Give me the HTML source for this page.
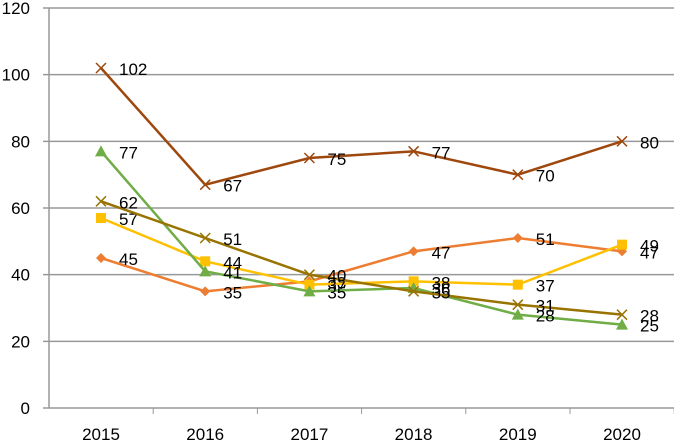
<!DOCTYPE html>
<html><head><meta charset="utf-8"><style>
body{margin:0;background:#fff}
svg{display:block;font-family:"Liberation Sans",sans-serif}
</style></head><body>
<svg id="c" width="674" height="441"></svg>
<script>
const categories=["2015","2016","2017","2018","2019","2020"];
const yTicks=[0,20,40,60,80,100,120];
const sOrange=[45,35,38,47,51,47];
const sYellow=[57,44,37,38,37,49];
const sGreen=[77,41,35,36,28,25];
const sBrown=[102,67,75,77,70,80];
const sOlive=[62,51,40,35,31,28];
const series=[
 {name:"series-orange",v:sOrange,c:"#ED7D31",m:"diamond"},
 {name:"series-yellow",v:sYellow,c:"#FFC000",m:"square"},
 {name:"series-green",v:sGreen,c:"#70AD47",m:"triangle"},
 {name:"series-brown",v:sBrown,c:"#9E480E",m:"x"},
 {name:"series-olive",v:sOlive,c:"#997300",m:"x"}
];
const NS="http://www.w3.org/2000/svg";
const svg=document.getElementById('c');
const X=i=>101+i*104.2;
const Y=v=>408-v*400/120;
function mk(t,a,p){const e=document.createElementNS(NS,t);for(const k in a)e.setAttribute(k,a[k]);(p||svg).appendChild(e);return e;}
yTicks.forEach(t=>{
 const g=mk('line',{x1:43,x2:674,y1:Y(t),y2:Y(t),stroke:'#999','stroke-width':1.5});
 
 
 const l=mk('text',{x:30,y:Y(t)+6,'text-anchor':'end','font-size':17});
 l.textContent=t;
 
 
});
const ax=mk('line',{x1:49,x2:49,y1:8,y2:408,stroke:'#999','stroke-width':1.5});


categories.forEach((c,i)=>{
 const tk=mk('line',{x1:49+104.2*(i+1),x2:49+104.2*(i+1),y1:408,y2:414,stroke:'#999'});
 
 
 const l=mk('text',{x:X(i),y:440,'text-anchor':'middle','font-size':17});
 l.textContent=c;
 
 
});
series.forEach(s=>{
 const g=mk('g',{});
 
 
 mk('polyline',{points:s.v.map((v,i)=>X(i)+','+Y(v)).join(' '),fill:'none',stroke:s.c,'stroke-width':2.5},g);
 s.v.forEach((v,i)=>{
  const x=X(i),y=Y(v);let m;
  if(s.m==='diamond')m=mk('polygon',{points:`${x},${y-5} ${x+5},${y} ${x},${y+5} ${x-5},${y}`,fill:s.c},g);
  else if(s.m==='square')m=mk('rect',{x:x-5,y:y-5,width:10,height:10,fill:s.c},g);
  else if(s.m==='triangle')m=mk('polygon',{points:`${x},${y-6} ${x+6},${y+5} ${x-6},${y+5}`,fill:s.c},g);
  else m=mk('path',{d:`M${x-5},${y-5}L${x+5},${y+5}M${x-5},${y+5}L${x+5},${y-5}`,stroke:s.c,'stroke-width':1.5},g);
  
  
  const t=mk('text',{x:x+18,y:y+7,'font-size':17,fill:'#000'},g);
  t.textContent=v;
  
  
 });
});
</script>
</body></html>
